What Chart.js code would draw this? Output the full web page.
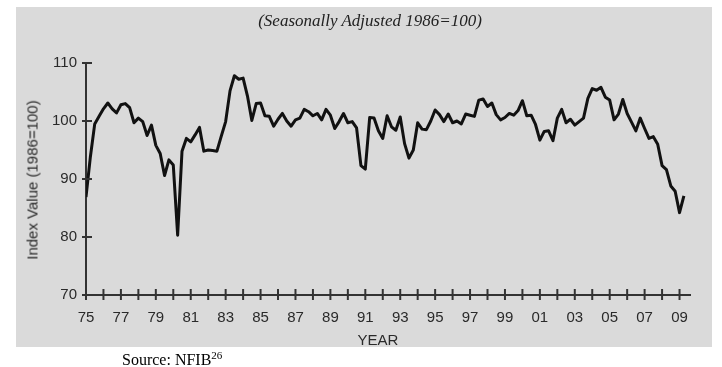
<!DOCTYPE html>
<html>
<head>
<meta charset="utf-8">
<script src="https://cdn.jsdelivr.net/npm/chart.js@4.4.1/dist/chart.umd.min.js"></script>
<style>
  body { margin: 0; background: #fff; width: 722px; height: 367px; overflow: hidden; position: relative; }
  #panel { position: absolute; left: 16px; top: 7px; width: 696px; height: 340px; background: #dadada; }
  #panel canvas { position: absolute; left: 0; top: 0; }
  .txt { position: absolute; color: #2a2a2a; white-space: nowrap; }
  #subtitle { left: 370px; top: 11px; transform: translateX(-50%); font: italic 17px 'Liberation Serif', serif; color: #222; }
  #xtitle { left: 378px; top: 331px; transform: translateX(-50%); font: 15px 'Liberation Sans', Arial, sans-serif; }
  #ytitle { left: 32px; top: 180px; transform: translate(-50%, -50%) rotate(-90deg); font: 15px 'Liberation Sans', Arial, sans-serif; }
  #source { left: 122px; top: 349px; font: 16px 'Liberation Serif', serif; color: #000; }
  #source sup { font-size: 11px; }
</style>
</head>
<body>
<div id="panel"><canvas id="optimismChart" width="696" height="340"></canvas></div>
<div class="txt" id="subtitle">(Seasonally Adjusted 1986=100)</div>
<div class="txt" id="ytitle">Index Value (1986=100)</div>
<div class="txt" id="xtitle">YEAR</div>
<div class="txt" id="source">Source: NFIB<sup>26</sup></div>
<script>
// quarterly index values, first quarter of 1975 to second quarter of 2009
const startYear = 1975;
const indexValues = [
    86.9, 93.8, 99.5, 100.8,     // 1975
    102.1, 103.1, 102.1, 101.4,  // 1976
    102.8, 103.0, 102.3, 99.7,   // 1977
    100.5, 99.9, 97.5, 99.3,     // 1978
    95.8, 94.4, 90.6, 93.3,      // 1979
    92.4, 80.3, 94.8, 97.0,      // 1980
    96.4, 97.6, 98.9, 94.8,      // 1981
    95.0, 94.9, 94.8, 97.4,      // 1982
    99.9, 105.2, 107.8, 107.2,   // 1983
    107.4, 104.3, 100.1, 103.0,  // 1984
    103.1, 100.9, 100.8, 99.1,   // 1985
    100.3, 101.3, 100.0, 99.1,   // 1986
    100.2, 100.5, 102.0, 101.6,  // 1987
    100.9, 101.3, 100.2, 102.0,  // 1988
    101.0, 98.7, 99.9, 101.3,    // 1989
    99.7, 99.9, 98.8, 92.3,      // 1990
    91.7, 100.6, 100.5, 98.3,    // 1991
    97.0, 100.9, 99.0, 98.4,     // 1992
    100.7, 96.1, 93.6, 95.0,     // 1993
    99.7, 98.6, 98.5, 100.0,     // 1994
    101.9, 101.1, 99.9, 101.2,   // 1995
    99.7, 100.0, 99.5, 101.2,    // 1996
    101.0, 100.8, 103.6, 103.8,  // 1997
    102.5, 103.1, 101.1, 100.2,  // 1998
    100.6, 101.3, 101.0, 101.8,  // 1999
    103.5, 100.9, 101.0, 99.4,   // 2000
    96.7, 98.2, 98.3, 96.6,      // 2001
    100.5, 102.0, 99.7, 100.3,   // 2002
    99.3, 99.9, 100.5, 103.9,    // 2003
    105.6, 105.3, 105.8, 104.1,  // 2004
    103.6, 100.2, 101.2, 103.7,  // 2005
    101.3, 99.8, 98.3, 100.5,    // 2006
    98.7, 97.0, 97.3, 96.0,      // 2007
    92.3, 91.6, 88.8, 87.9,      // 2008
    84.2, 87.1                   // 2009
];
const tickYears = [];
for (let yr = 1975; yr <= 2009; yr++) tickYears.push(yr);
const yTicks = [70, 80, 90, 100, 110];

const points = indexValues.map((v, i) => ({ x: startYear + i / 4, y: v }));

// tick marks that cross the axis lines
const crossTicks = {
    id: 'crossTicks',
    afterDraw(chart) {
        const ctx = chart.ctx;
        const xs = chart.scales.x;
        const ys = chart.scales.y;
        ctx.save();
        ctx.strokeStyle = '#333';
        ctx.lineWidth = 2;
        xs.ticks.forEach(t => {
            const px = xs.getPixelForValue(t.value);
            ctx.beginPath();
            ctx.moveTo(px, ys.bottom - 6);
            ctx.lineTo(px, ys.bottom + 5);
            ctx.stroke();
        });
        ys.ticks.forEach(t => {
            const py = ys.getPixelForValue(t.value);
            ctx.beginPath();
            ctx.moveTo(xs.left - 4, py);
            ctx.lineTo(xs.left + 6, py);
            ctx.stroke();
        });
        ctx.restore();
    }
};

const tickFont = { family: "'Liberation Sans', Arial, sans-serif", size: 15 };

new Chart(document.getElementById('optimismChart').getContext('2d'), {
    type: 'line',
    data: {
        datasets: [{
            data: points,
            borderColor: '#111',
            borderWidth: 3,
            borderJoinStyle: 'round',
            pointRadius: 0,
            tension: 0,
            fill: false
        }]
    },
    options: {
        responsive: false,
        animation: false,
        layout: { padding: { top: 56, right: 22, left: 0, bottom: 0 } },
        plugins: { legend: { display: false }, tooltip: { enabled: false } },
        scales: {
            x: {
                type: 'linear',
                min: 1975,
                max: 2009.6,
                grid: { display: false, drawTicks: false },
                border: { display: true, color: '#333', width: 2 },
                afterBuildTicks: s => { s.ticks = tickYears.map(v => ({ value: v })); },
                afterFit: s => { s.height = 52; },
                ticks: {
                    autoSkip: false,
                    maxRotation: 0,
                    padding: 14,
                    color: '#2a2a2a',
                    font: tickFont,
                    callback: v => (v % 2 === 1 ? String(v % 100).padStart(2, '0') : '')
                }
            },
            y: {
                min: 70,
                max: 110,
                grid: { display: false, drawTicks: false },
                border: { display: true, color: '#333', width: 2 },
                afterBuildTicks: s => { s.ticks = yTicks.map(v => ({ value: v })); },
                afterFit: s => { s.width = 70; },
                ticks: { padding: 9, color: '#2a2a2a', font: tickFont }
            }
        }
    },
    plugins: [crossTicks]
});
</script>
</body>
</html>
